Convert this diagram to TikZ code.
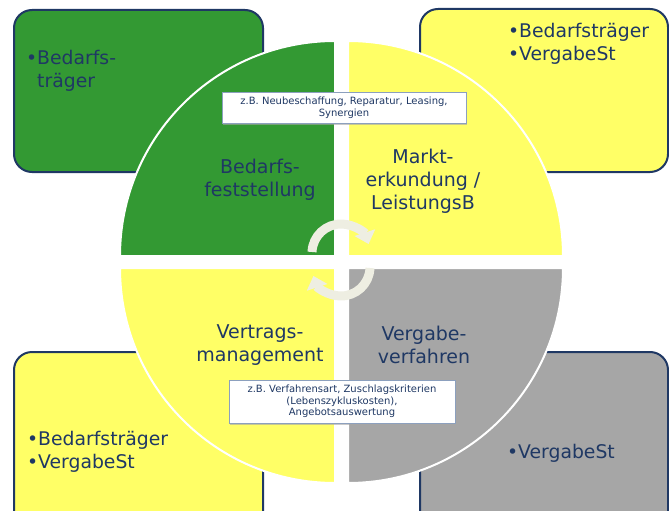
\documentclass[tikz,border=0pt]{standalone}
\usepackage{fontspec}
\setmainfont{DejaVu Sans}
\usetikzlibrary{arrows.meta,shadows}
\definecolor{qgreen}{RGB}{51,153,51}
\definecolor{qyellow}{RGB}{255,255,102}
\definecolor{qgray}{RGB}{166,166,166}
\definecolor{navy}{RGB}{31,56,100}
\definecolor{cream}{RGB}{238,238,226}
\definecolor{callborder}{RGB}{140,160,190}
\begin{document}
\begin{tikzpicture}[x=1pt,y=-1pt,
  outerbox/.style={draw=navy,line width=2pt,rounded corners=18pt},
  quad/.style={draw=white,line width=2pt},
  qlabel/.style={text=navy,font=\fontsize{19}{23}\selectfont,align=center,inner sep=0pt},
  blist/.style={text=navy,font=\fontsize{18.8}{23.5}\selectfont,align=left,anchor=north west,inner sep=0pt},
  callout/.style={fill=white,draw=callborder,line width=0.8pt,text=navy,font=\fontsize{10}{11.5}\selectfont,align=center,inner sep=0pt,
    drop shadow={shadow xshift=0.8pt,shadow yshift=-1.5pt,fill=black!35,opacity=0.6}},
  cyc/.style={draw=cream,line width=9pt,-{Triangle[length=12pt,width=21pt]}}
]
\useasboundingbox (0,0) rectangle (669,511);
\clip (0,0) rectangle (669,511);
% outer boxes
\draw[outerbox,fill=qgreen] (14,10) rectangle (263,172);
\draw[outerbox,fill=qyellow] (420,9) rectangle (668,172);
\draw[outerbox,fill=qyellow] (14,352) rectangle (263,530);
\draw[outerbox,fill=qgray] (420,352) rectangle (668,530);
% quadrants
\draw[quad,fill=qgreen] (335,256) -- (120,256) arc[start angle=180,end angle=270,radius=215] -- cycle;
\draw[quad,fill=qyellow] (348,256) -- (348,41) arc[start angle=270,end angle=360,radius=215] -- cycle;
\draw[quad,fill=qyellow] (335,268) -- (335,483) arc[start angle=90,end angle=180,radius=215] -- cycle;
\draw[quad,fill=qgray] (348,268) -- (563,268) arc[start angle=0,end angle=90,radius=215] -- cycle;
% box texts
\node[blist] (tl) at (26,50) {\makebox[11pt][l]{•}Bedarfs-\\\hspace*{11pt}träger};
\node[blist] (tr) at (508,23) {\makebox[11pt][l]{•}Bedarfsträger\\\makebox[11pt][l]{•}VergabeSt};
\node[blist] (bl) at (27,431) {\makebox[11pt][l]{•}Bedarfsträger\\\makebox[11pt][l]{•}VergabeSt};
\node[blist] (br) at (507,444) {\makebox[11pt][l]{•}VergabeSt};
% quadrant labels
\node[qlabel] (q1) at (260,180) {Bedarfs-\\feststellung};
\node[qlabel] (q2) at (423,181) {Markt-\\erkundung /\\LeistungsB};
\node[qlabel] (q3) at (260,345) {Vertrags-\\management};
\node[qlabel] (q4) at (424,345) {Vergabe-\\verfahren};
% cycle arrows
\coordinate (c1) at (341,253);
\coordinate (c2) at (341,267);
\draw[cyc] ([shift={(182:29)}]c1) arc[start angle=182,end angle=342,radius=29];
\draw[cyc] ([shift={(2:29)}]c2) arc[start angle=2,end angle=162,radius=29];
% callouts
\node[callout,minimum width=244pt,minimum height=31pt] (co1) at (344,107.5)
  {z.B. Neubeschaffung, Reparatur, Leasing,\\Synergien};
\node[callout,minimum width=226pt,minimum height=43pt] (co2) at (342,401.5)
  {z.B. Verfahrensart, Zuschlagskriterien\\(Lebenszykluskosten),\\Angebotsauswertung};
\end{tikzpicture}
\end{document}
